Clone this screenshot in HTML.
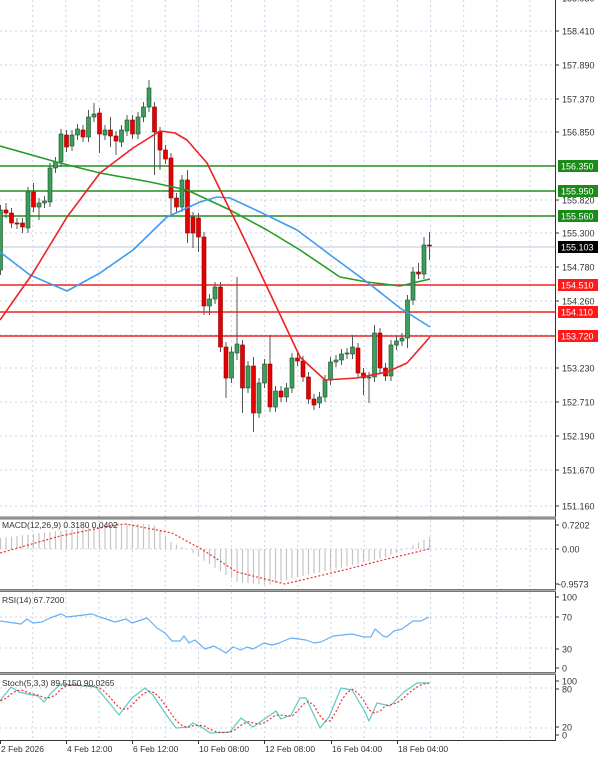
<!DOCTYPE html>
<html><head><meta charset="utf-8">
<style>
html,body{margin:0;padding:0;background:#fff;}
svg{display:block;font-family:"Liberation Sans",sans-serif;}
</style></head>
<body>
<svg id="c" width="600" height="757" viewBox="0 0 600 757" xmlns="http://www.w3.org/2000/svg">
<rect width="600" height="757" fill="#fff"/>
<g id="grid" stroke="#c8d4e8" stroke-width="1" stroke-dasharray="2,3"></g>
<g id="lines"></g>
<g id="candles"></g>
<g id="ind"></g>
<g id="frame"></g>
<g id="labels" font-size="9" fill="#333"></g>
</svg>
<script>
const NS="http://www.w3.org/2000/svg";
function el(p,t,a,txt){const e=document.createElementNS(NS,t);for(const k in a)e.setAttribute(k,a[k]);if(txt!==undefined)e.textContent=txt;document.getElementById(p).appendChild(e);return e;}
// vertical grid
for(let k=0;k<=16;k++){const x=430.5-33.15*(13-k);if(x<0||x>555)continue;
 [[0,517],[520,589],[592,673],[676,739]].forEach(r=>el('grid','line',{x1:x,x2:x,y1:r[0],y2:r[1]}));}
// horizontal grid main
[31,65,99,132,200,233,267,301,335,368,402,436,470,506].forEach(y=>el('grid','line',{x1:0,x2:555,y1:y,y2:y}));
[549,617,648,688,728].forEach(y=>el('grid','line',{x1:0,x2:555,y1:y,y2:y}));
// current price line
el('lines','line',{x1:0,x2:555,y1:247,y2:247,stroke:'#dde3ee','stroke-width':2});
// S/R lines
[[166,'#1f8f1f'],[191,'#1f8f1f'],[216,'#1f8f1f'],[285,'#ee2222'],[312,'#ee2222'],[336,'#ee2222']].forEach(a=>el('lines','line',{x1:0,x2:555,y1:a[0],y2:a[0],stroke:a[1],'stroke-width':1.5}));
// candles
const C=[['g',210,270],['r',210,213,203],['r',213,223],['r',223,224],['r',223,227,0,233],['g',192,228],['r',192,207,183],['g',203,207,0,220],['g',201,203],['g',168,202],
['g',162,168],['g',134,162],['r',135,147],['g',135,146],['g',129,135],['r',130,137],['g',117,137,110],['g',114,117,103],['r',113,134,0,153],['g',130,135],
['r',130,136,117,147],['r',136,141,0,155],['g',130,142],['g',120,131],['r',120,134],['g',117,134],['g',107,117],['g',88,107,80],['r',107,132,0,175],['r',132,150,0,170],
['r',150,159],['r',158,198,0,217],['r',198,207],['g',180,207],['r',180,233,170,243],['r',217,233,0,248],['r',218,237,0,252],['r',237,306,0,315],['g',299,306,0,315],['g',287,299],
['r',287,347],['r',347,378,0,398],['g',352,378,0,383],['g',344,353,277,360],['r',345,388,0,413],['g',366,388],['r',366,413,357,432],['g',383,413],['g',364,383],['r',364,407,335],
['g',391,407],['r',391,397],['g',388,397],['g',358,388],['r',358,361],['r',361,377],['r',377,399],['r',399,405],['g',397,403],['g',380,397],
['g',362,380],['g',360,362],['g',354,360],['g',353,354],['g',347,354,335],['r',348,373],['r',373,378,0,395],['g',377,378,0,403],['g',333,377,325],['r',333,368],
['r',368,376],['g',345,376],['g',341,345],['g',338,341],['g',300,338,0,348],['g',272,300],['r',272,274,263],['g',245,274,237],['r',245,246,232,260]];
const X=i=>5.5*i+0.5;
C.forEach((c,i)=>{const x=X(i);const hi=c[3]||c[1]-5, lo=c[4]||c[2]+5;
 el('candles','line',{x1:x,x2:x,y1:hi,y2:lo,stroke:'#555','stroke-width':1});
 el('candles','rect',{x:x-2,y:c[1],width:4,height:Math.max(1,c[2]-c[1]),fill:c[0]=='g'?'#3c9e5c':'#e80000',stroke:c[0]=='g'?'#1d4d2a':'#8a0000','stroke-width':0.6});});
function pl(pts,col,w,dash,par){el(par||'lines','polyline',{points:pts.map(p=>p.join(',')).join(' '),fill:'none',stroke:col,'stroke-width':w,'stroke-dasharray':dash||'none','stroke-linejoin':'round'});}
pl([[0,146],[60,163],[100,173],[150,182],[187,190],[230,210],[267,230],[300,250],[340,277],[367,282],[400,286],[413,283],[430,279]],'#279b27',1.6,null,'candles');
pl([[0,252],[30,275],[67,291],[100,273],[133,250],[167,217],[200,202],[217,197],[230,198],[260,212],[297,230],[333,257],[367,282],[400,308],[430,327]],'#3d9cf0',1.6,null,'candles');
pl([[0,320],[33,273],[67,217],[100,173],[133,148],[160,131],[175,133],[187,140],[207,163],[230,210],[240,230],[267,287],[300,357],[325,380],[357,378],[387,372],[407,363],[430,337]],'#ee2222',1.6,null,'candles');
// MACD
function interp(pts,x){for(let k=0;k<pts.length-1;k++){if(x>=pts[k][0]&&x<=pts[k+1][0]){const t=(x-pts[k][0])/(pts[k+1][0]-pts[k][0]);return pts[k][1]+t*(pts[k+1][1]-pts[k][1]);}}return pts[pts.length-1][1];}
const H=[[0,538],[115,524],[153,524],[172,543],[187,549],[203,560],[237,582],[268,585],[298,577],[344,567],[383,558],[406,549],[429,537]];
for(let i=0;i<79;i++){const x=X(i);const y=interp(H,x);el('ind','line',{x1:x,x2:x,y1:549,y2:y,stroke:'#c4c4c4','stroke-width':1.2});}
pl([[0,553],[60,536],[115,525],[126,524],[172,533],[203,550],[237,572],[285,584],[344,570],[383,560],[429,549]],'#f03030',1.2,'2,2','ind');
// RSI
pl([[0,621],[21,624],[27,619],[33,623],[42,622],[50,618],[61,614],[67,617],[92,614],[100,617],[115,622],[126,619],[132,623],[147,618],[157,628],[165,633],[172,641],[180,641],[184,636],[189,643],[195,640],[205,649],[214,646],[226,653],[233,647],[241,650],[247,647],[253,649],[264,643],[272,645],[279,643],[291,638],[306,640],[314,643],[321,642],[333,636],[352,634],[364,637],[371,637],[375,629],[383,636],[387,637],[394,631],[402,629],[413,621],[421,621],[429,617]],'#6aaef5',1.2,null,'ind');
// Stoch
const S=[[0,701],[11,687],[19,692],[27,694],[38,696],[44,702],[52,692],[61,684],[96,687],[111,705],[119,715],[132,698],[145,688],[153,695],[165,713],[176,728],[188,727],[193,723],[203,728],[210,733],[230,732],[241,718],[253,727],[276,711],[281,719],[291,715],[300,698],[306,698],[320,728],[329,717],[341,688],[352,690],[364,710],[369,721],[377,703],[390,706],[404,692],[417,683],[429,683]];
pl(S,'#5ccbc0',1.2,null,'ind');
const sig=[];for(let i=0;i<79;i++){const x=X(i);let s=0;for(let j=0;j<3;j++)s+=interp(S,Math.max(0,x-5.5*j));sig.push([x,s/3]);}
pl(sig,'#f03030',1.2,'2,2','ind');
// frames
el('frame','line',{x1:555.5,x2:555.5,y1:0,y2:741,stroke:'#333','stroke-width':1});
[518,590.5,673.5].forEach(y=>{el('frame','rect',{x:0,y:y-1.5,width:556,height:3,fill:'#777'});el('frame','line',{x1:0,x2:556,y1:y,y2:y,stroke:'#ddd','stroke-width':0.6});});
el('frame','line',{x1:0,x2:556,y1:740.5,y2:740.5,stroke:'#333','stroke-width':1});
// price axis labels
[['158.930',-2],['158.410',31],['157.890',65],['157.370',99],['156.850',132],['155.820',200],['155.300',233],['154.780',267],['154.260',301],['153.230',368],['152.710',402],['152.190',436],['151.670',470],['151.160',506],
['0.7202',525],['0.00',549],['-0.9573',584],['100',597],['70',617],['30',649],['0',668],['100',681],['80',689],['20',727],['0',735]].forEach(a=>{
 el('labels','line',{x1:555,x2:559,y1:a[1],y2:a[1],stroke:'#333'});el('labels','text',{x:a[0][0]=='-'?558:562,y:a[1]+3.5},a[0]);});
[['156.350',166,'#1a8a1a'],['155.950',191,'#1a8a1a'],['155.560',216,'#1a8a1a'],['155.103',247,'#000'],['154.510',285,'#ff1a1a'],['154.110',312,'#ff1a1a'],['153.720',336,'#ff1a1a']].forEach(a=>{
 el('labels','rect',{x:558,y:a[1]-6,width:40,height:12,fill:a[2]});el('labels','text',{x:561,y:a[1]+3.5,fill:'#fff'},a[0]);});
// panel titles
el('labels','text',{x:2,y:528,'font-size':8.5},'MACD(12,26,9) 0.3180 0.0402');
el('labels','text',{x:2,y:603,'font-size':8.5},'RSI(14) 67.7200');
el('labels','text',{x:2,y:686,'font-size':8.5},'Stoch(5,3,3) 89.5150 90.0265');
// time labels
[['2 Feb 2026',0],['4 Feb 12:00',66],['6 Feb 12:00',132],['10 Feb 08:00',198],['12 Feb 08:00',264],['16 Feb 04:00',331],['18 Feb 04:00',397]].forEach(a=>{
 el('labels','line',{x1:a[1]+0.5,x2:a[1]+0.5,y1:740,y2:744,stroke:'#333'});el('labels','text',{x:a[1]+1,y:752,'font-size':8.5},a[0]);});
</script>
</body></html>
